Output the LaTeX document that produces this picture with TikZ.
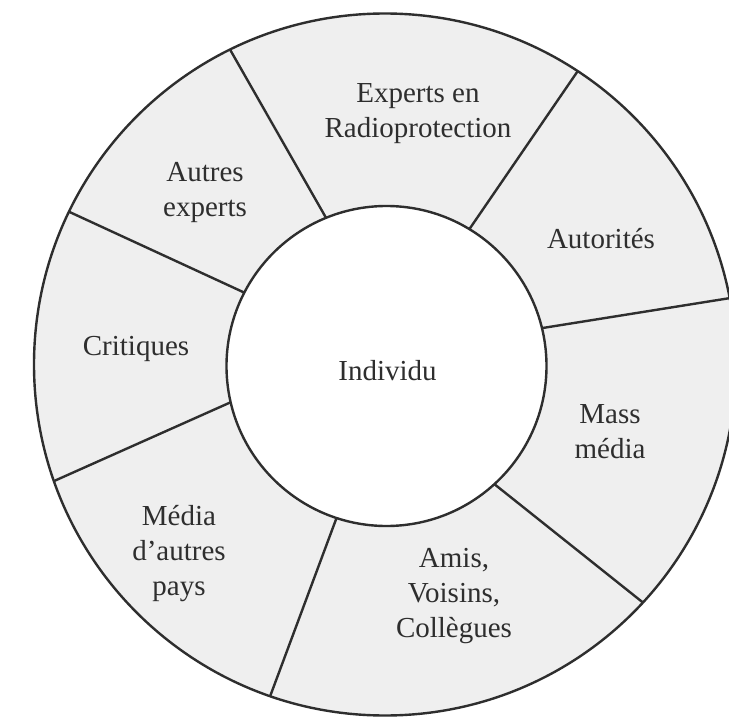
\documentclass[tikz,border=0pt]{standalone}
\usepackage{fontspec}
\setmainfont{Liberation Serif}
\definecolor{ink}{HTML}{2E2E2E}
\definecolor{ringfill}{HTML}{EFEFEF}
\begin{document}
\begin{tikzpicture}[x=1pt,y=-1pt,
  rim/.style={draw=ink,line width=2.4pt},
  spoke/.style={draw=ink,line width=2.4pt},
  lbl/.style={font=\fontsize{29}{35}\selectfont,text=ink,align=center,inner sep=0pt,anchor=base}]
\useasboundingbox (0,0) rectangle (729,717);
\fill[white] (0,0) rectangle (729,717);
\clip (0,0) rectangle (729,717);
% centres of the two circles
\coordinate (oc) at (385,364.5);
\coordinate (ic) at (386.5,366);
% grey ring and white core
\path[rim,fill=ringfill] (oc) circle[radius=351];
\path[rim,fill=white] (ic) circle[radius=160];
% dividing spokes: inner angle / outer angle
\foreach \n/\a/\b in {1/-112.2/-116.2, 2/-58.8/-56.7, 3/-13.7/-10.9,
                      4/47.6/42.7, 5/108.2/109.1, 6/166.9/160.6, 7/-152.7/-154.2} {
  \coordinate (in\n) at ([shift={(\a:160)}]ic);
  \coordinate (out\n) at ([shift={(\b:351)}]oc);
  \draw[spoke] (in\n) -- (out\n);
}
% labels (anchored at the baseline of the last line)
\node[lbl] (individu) at (387.5,380) {Individu};
\node[lbl] (radio) at (418,137) {Experts en\\Radioprotection};
\node[lbl] (autexp) at (205,216) {Autres\\experts};
\node[lbl] (autorites) at (601,248) {Autorités};
\node[lbl] (critiques) at (136,355) {Critiques};
\node[lbl] (mass) at (610,458) {Mass\\média};
\node[lbl] (media) at (179,595) {Média\\d’autres\\pays};
\node[lbl] (amis) at (454,637) {Amis,\\Voisins,\\Collègues};
\end{tikzpicture}
\end{document}
